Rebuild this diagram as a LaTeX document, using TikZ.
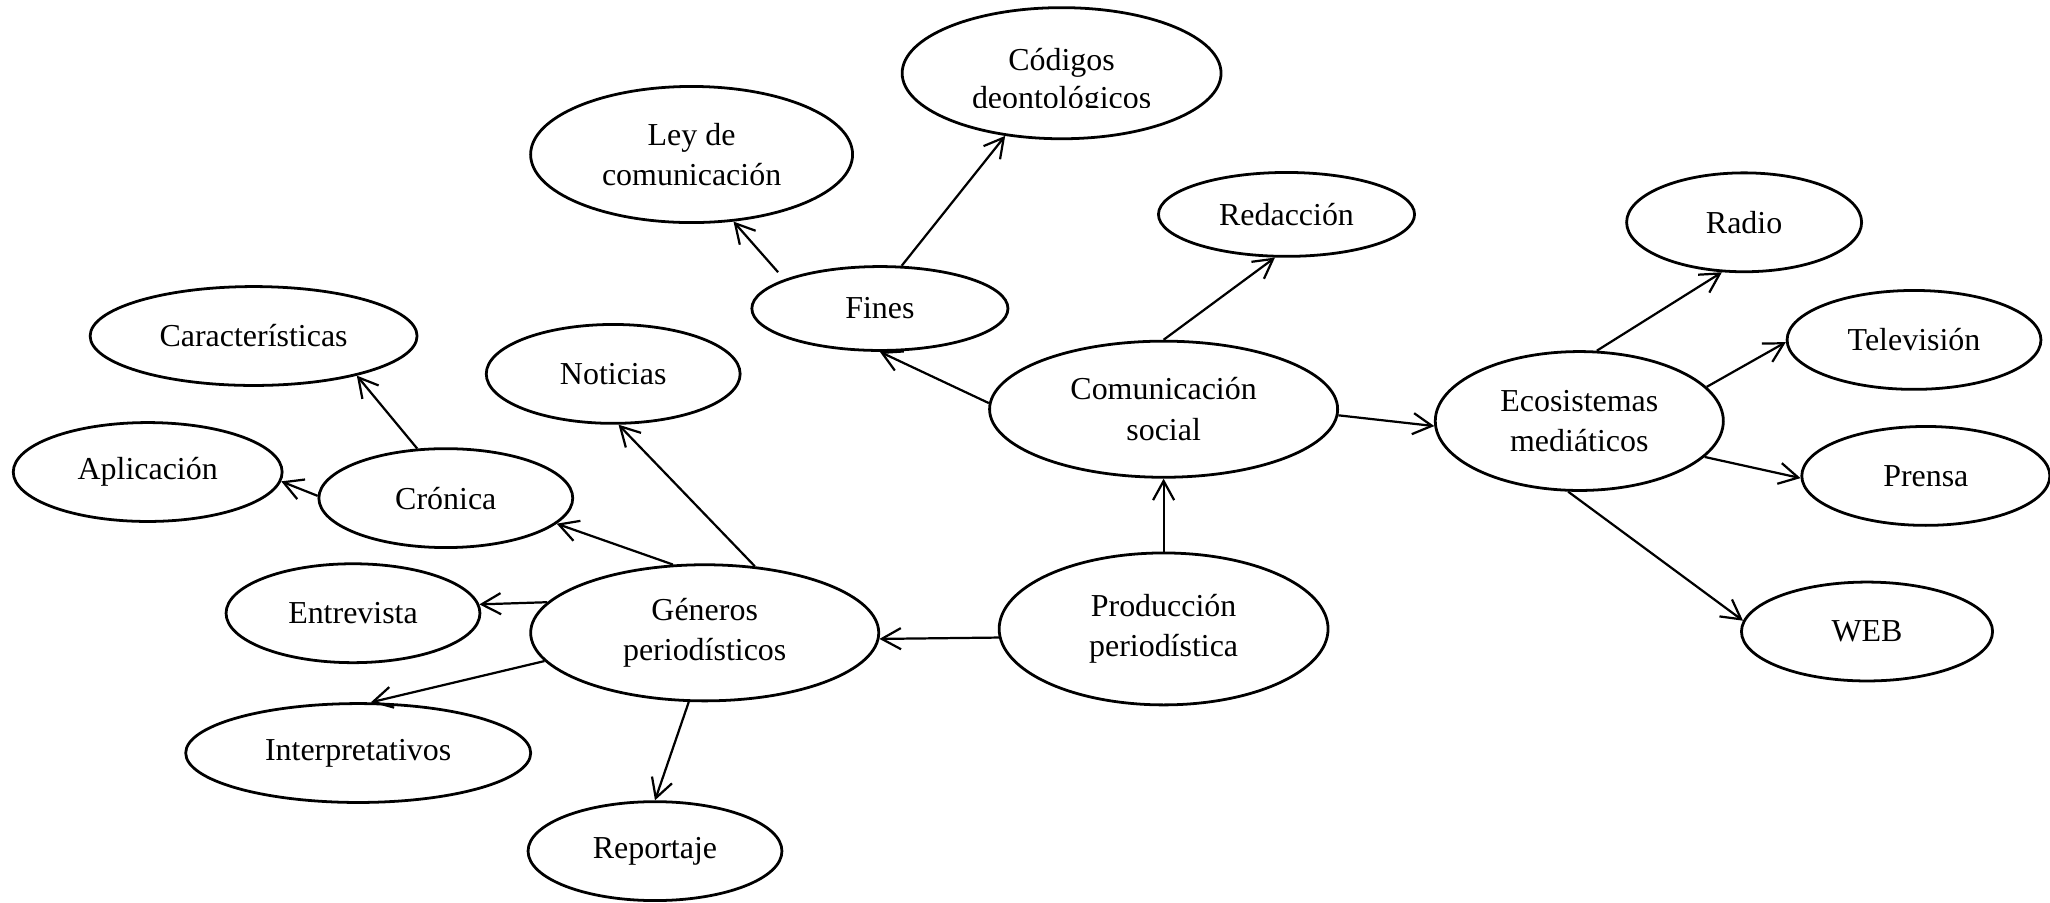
\documentclass[tikz,border=0pt]{standalone}
\usepackage{fontspec}
\setmainfont{Liberation Serif}
\usetikzlibrary{shapes.geometric,arrows.meta}
\begin{document}
\begin{tikzpicture}[x=0.36pt,y=-0.36pt,
  bub/.style={ellipse, draw, line width=1pt, inner sep=0pt, align=center,
    font=\fontsize{11.5}{14.6}\selectfont},
  txt/.style={inner sep=0pt, align=center, font=\fontsize{11.5}{13.7}\selectfont},
  arr/.style={-{Straight Barb[length=6.9pt,width=7.6pt]}, line width=0.8pt},
  sm/.style={minimum width=91.4pt, minimum height=35.6pt}]
\useasboundingbox (0,0) rectangle (2050,902);
% nodes
\node[bub, minimum width=114.8pt, minimum height=47.2pt] (cod) at (1061.6,73.2) {};
\begin{scope}
  \clip (cod.west |- 0,0) rectangle (cod.east |- 0,107);
  \node[txt] (codt) at (1061.6,82) {Códigos\\deontológicos};
\end{scope}
\node[bub, minimum width=115.9pt, minimum height=49pt] (ley) at (691.6,154.5) {Ley de\\comunicación};
\node[bub, minimum width=92.2pt, minimum height=30.2pt] (red) at (1286.5,214.4) {Redacción};
\node[bub, minimum width=84.6pt, minimum height=35.6pt] (radio) at (1744.1,222.3) {Radio};
\node[bub, minimum width=92.2pt, minimum height=30.2pt] (fines) at (879.9,308.5) {Fines};
\node[bub, minimum width=117.7pt, minimum height=35.6pt] (car) at (253.6,336) {Características};
\node[bub, sm] (not) at (613.2,373.9) {Noticias};
\node[bub, sm] (tv) at (1914,339.9) {Televisión};
\node[bub, minimum width=125.3pt, minimum height=49pt] (com) at (1163.6,409.2) {Comunicación\\social};
\node[bub, minimum width=103.7pt, minimum height=50pt] (eco) at (1579.3,421) {Ecosistemas\\mediáticos};
\node[bub, minimum width=96.8pt, minimum height=35.6pt] (apl) at (147.7,472) {Aplicación};
\node[bub, sm] (cro) at (445.8,498.1) {Crónica};
\node[bub, minimum width=89.3pt, minimum height=35.6pt] (pre) at (1925.8,475.9) {Prensa};
\node[bub, sm] (ent) at (353,613.2) {Entrevista};
\node[bub, minimum width=125.3pt, minimum height=49pt] (gen) at (704.7,632.8) {Géneros\\periodísticos};
\node[bub, minimum width=118.4pt, minimum height=54.7pt] (prod) at (1163.6,628.9) {Producción\\periodística};
\node[bub, minimum width=90.4pt, minimum height=35.6pt] (web) at (1867,631.5) {WEB};
\node[bub, minimum width=124.2pt, minimum height=35.6pt] (int) at (358.2,753) {Interpretativos};
\node[bub, sm] (rep) at (655,851.1) {Reportaje};
% connectors
\draw[arr, shorten <=3.4pt] (fines.163) -- (ley.302);
\draw[arr] (fines.63.4) -- (cod.228.9);
\draw[arr] (com.178) -- (fines.270);
\draw[arr] (com.90) -- (red.255);
\draw[arr] (com.358.7) -- (eco.182.6);
\draw[arr] (eco.76.2) -- (radio.246);
\draw[arr] (eco.15.7) -- (tv.181.2);
\draw[arr] (eco.344.4) -- (pre.181.8);
\draw[arr] (eco.261.6) -- (web.175.9);
\draw[arr] (prod.north) -- (com.south);
\draw[arr] (prod.183.2) -- (gen.358.3);
\draw[arr] (gen.53.8) -- (not.276);
\draw[arr] (gen.115.2) -- (cro.347.6);
\draw[arr] (cro.120.7) -- (car.339.2);
\draw[arr] (cro.179.4) -- (apl.356.7);
\draw[arr] (gen.169.2) -- (ent.4.7);
\draw[arr] (gen.190.9) -- (int.76);
\draw[arr] (gen.257.2) -- (rep.90);
\end{tikzpicture}
\end{document}
